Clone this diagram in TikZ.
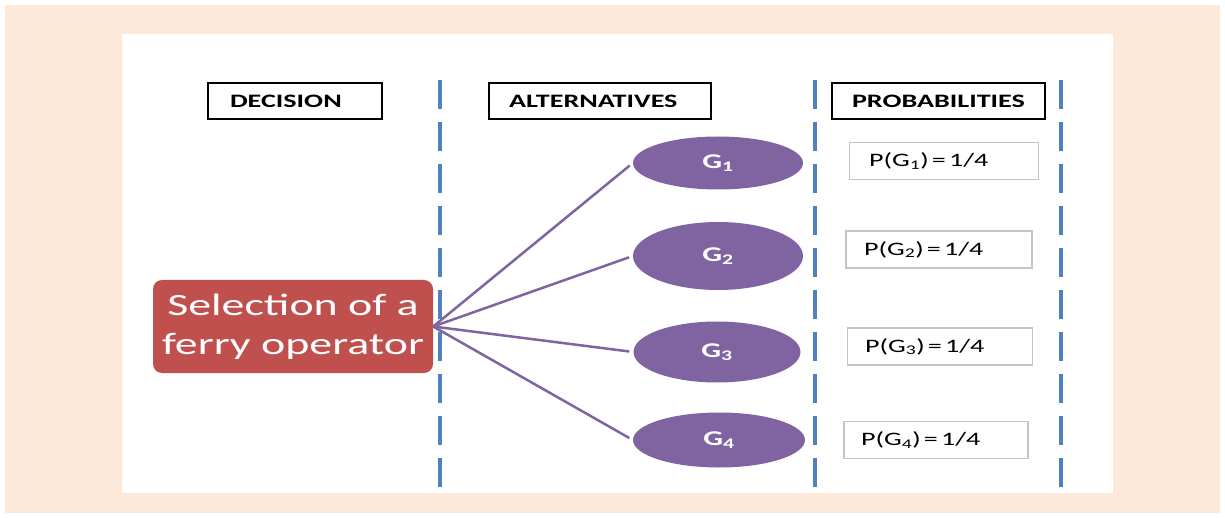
\documentclass[tikz,border=0pt]{standalone}
\usepackage{fontspec}
\setmainfont{Carlito}[FakeStretch=1.48]
\usetikzlibrary{shapes.geometric}
\definecolor{peach}{HTML}{FDE9D9}
\definecolor{divblue}{HTML}{4F81BD}
\definecolor{altpurple}{HTML}{8064A2}
\definecolor{decred}{HTML}{C0504D}
\definecolor{probgray}{HTML}{C4C4C4}
\tikzset{
  divider/.style={draw=divblue, line width=4pt, dash pattern=on 29pt off 13pt},
  header/.style={draw=black, line width=2pt, fill=white, minimum height=36pt,
    inner sep=0pt, font=\fontsize{19}{22}\selectfont\bfseries},
  decision/.style={fill=decred, rounded corners=9pt, text=white, align=center,
    minimum width=280pt, minimum height=93pt, inner sep=0pt,
    font=\fontsize{31}{39}\selectfont},
  alt/.style={ellipse, fill=altpurple, text=white, inner sep=0pt,
    font=\fontsize{21}{24}\selectfont\bfseries},
  prob/.style={draw=probgray, line width=1.3pt, fill=white, inner sep=0pt,
    minimum height=37pt, font=\fontsize{19}{22}\selectfont},
  branch/.style={draw=altpurple, line width=2.5pt, shorten >=4pt},
}
\newcommand{\probtext}[1]{\makebox[150pt][l]{P(G\textsubscript{#1})\,=\,1/4}}
\begin{document}
\begin{tikzpicture}[x=1pt, y=-1pt]
  \useasboundingbox (0,0) rectangle (1225,518);
  % page backdrop
  \fill[white] (0,0) rectangle (1225,518);
  \fill[peach] (5,5) rectangle (1220,513);
  \fill[white] (122,34) rectangle (1113,493);

  % column dividers
  \coordinate (d1t) at (440,80);  \coordinate (d1b) at (440,492);
  \coordinate (d2t) at (815,80);  \coordinate (d2b) at (815,492);
  \coordinate (d3t) at (1061,80); \coordinate (d3b) at (1061,492);
  \draw[divider] (d1t) -- (d1b);
  \draw[divider] (d2t) -- (d2b);
  \draw[divider] (d3t) -- (d3b);

  % column headers
  \node[header, minimum width=174pt] (hdec) at (295,101) {\makebox[130pt][l]{DECISION}};
  \node[header, minimum width=222pt] (halt) at (600,101) {\makebox[182pt][l]{ALTERNATIVES}};
  \node[header, minimum width=213pt] (hprob) at (938.5,101) {\makebox[173pt][l]{PROBABILITIES}};

  % decision
  \node[decision] (sel) at (293,326.5) {Selection of a\\ferry operator};

  % alternatives
  \node[alt, minimum width=170pt, minimum height=53pt] (g1) at (718,163) {G\textsubscript{1}};
  \node[alt, minimum width=170pt, minimum height=68pt] (g2) at (718,256) {G\textsubscript{2}};
  \node[alt, minimum width=167pt, minimum height=61pt] (g3) at (717,352) {G\textsubscript{3}};
  \node[alt, minimum width=172pt, minimum height=55pt] (g4) at (719,440) {G\textsubscript{4}};

  \draw[branch] (sel.east) -- (g1.west);
  \draw[branch] (sel.east) -- (g2.west);
  \draw[branch] (sel.east) -- (g3.west);
  \draw[branch] (sel.east) -- (g4.west);

  % probabilities
  \node[prob, minimum width=189pt] (p1) at (944,161) {\probtext{1}};
  \node[prob, minimum width=186pt] (p2) at (939,249.5) {\probtext{2}};
  \node[prob, minimum width=185pt] (p3) at (940,346.5) {\probtext{3}};
  \node[prob, minimum width=184pt] (p4) at (936,440) {\probtext{4}};
\end{tikzpicture}
\end{document}
